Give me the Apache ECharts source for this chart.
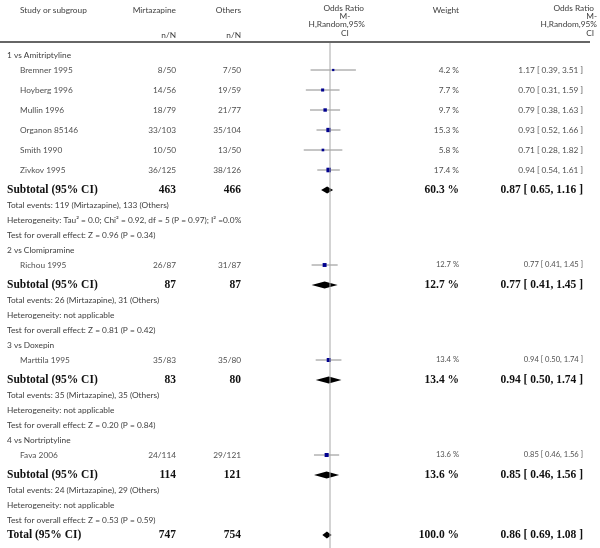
<!DOCTYPE html>
<html><head><meta charset="utf-8">
<script src="https://cdn.jsdelivr.net/npm/echarts@6/dist/echarts.min.js"></script>
<style>html,body{margin:0;padding:0;background:#fff}#c{width:600px;height:548px}</style>
</head><body><div id="c"></div>
<script>
// ---------- data ----------
const groups = ['1 vs Amitriptyline', '2 vs Clomipramine', '3 vs Doxepin', '4 vs Nortriptyline'];
const studyNames = ['Bremner 1995', 'Hoyberg 1996', 'Mullin 1996', 'Organon 85146', 'Smith 1990', 'Zivkov 1995', 'Richou 1995', 'Marttila 1995', 'Fava 2006'];
const studyGroup = [0, 0, 0, 0, 0, 0, 1, 2, 3];
const mirtEvents = [8, 14, 18, 33, 10, 36, 26, 35, 24];
const mirtTotal = [50, 56, 79, 103, 50, 125, 87, 83, 114];
const othEvents = [7, 19, 21, 35, 13, 38, 31, 35, 29];
const othTotal = [50, 59, 77, 104, 50, 126, 87, 80, 121];
const studyWeight = [4.2, 7.7, 9.7, 15.3, 5.8, 17.4, 12.7, 13.4, 13.6];
const studyOR = [1.17, 0.70, 0.79, 0.93, 0.71, 0.94, 0.77, 0.94, 0.85];
const studyLo = [0.39, 0.31, 0.38, 0.52, 0.28, 0.54, 0.41, 0.50, 0.46];
const studyHi = [3.51, 1.59, 1.63, 1.66, 1.82, 1.61, 1.45, 1.74, 1.56];

const subMirtN = [463, 87, 83, 114];
const subOthN = [466, 87, 80, 121];
const subMirtEv = [119, 26, 35, 24];
const subOthEv = [133, 31, 35, 29];
const subWeight = [60.3, 12.7, 13.4, 13.6];
const subOR = [0.87, 0.77, 0.94, 0.85];
const subLo = [0.65, 0.41, 0.50, 0.46];
const subHi = [1.16, 1.45, 1.74, 1.56];
const subHet = [
  'Heterogeneity: Tau\u00B2 = 0.0; Chi\u00B2 = 0.92, df = 5 (P = 0.97); I\u00B2 =0.0%',
  'Heterogeneity: not applicable',
  'Heterogeneity: not applicable',
  'Heterogeneity: not applicable'
];
const subZ = ['0.96', '0.81', '0.20', '0.53'];
const subP = ['0.34', '0.42', '0.84', '0.59'];

const totalMirtN = 747, totalOthN = 754, totalWeight = 100.0;
const totalOR = 0.86, totalLo = 0.69, totalHi = 1.08;

const plotHeader = ['Odds Ratio', 'M-', 'H,Random,95%', 'CI'];

// ---------- layout (styles only) ----------
const SANS = 'Lato, "Open Sans", sans-serif';
const SERIF = '"Liberation Serif", "Times New Roman", serif';
const COL_NAME = 7, COL_STUDY = 20, COL_M = 176, COL_O = 241, COL_W = 459, COL_OR = 583;
const Y_MIN = -11, Y_MAX = 98.6;

const f2 = v => v.toFixed(2);
const fmtOR = (o, l, h) => f2(o) + ' [ ' + f2(l) + ', ' + f2(h) + ' ]';
const fmtW = w => w.toFixed(1) + ' %';

const texts = [];
const forest = [];
let y = 0, first = true, prev = null;
function step(kind) {
  if (first) { first = false; prev = kind; return; }
  let s = 3;
  if (kind === 'study' && prev === 'study') s = 4;
  if (kind === 'subtotal') s = 4;
  y += s; prev = kind;
}
const small = {font: 'normal 8.3px ' + SANS, fill: '#404040'};
const studyStyle = {font: 'normal 8.3px ' + SANS, fill: '#505050'};
const studySmall = {font: 'normal 7.6px ' + SANS, fill: '#505050'};
const bold = {font: 'bold 11.5px ' + SERIF, fill: '#111'};
function T(x, yy, text, st, align) { texts.push({x: x, y: yy, text: text, st: st, align: align || 'left'}); }

groups.forEach((g, gi) => {
  step('group'); T(COL_NAME, y, g, small);
  studyNames.forEach((n, i) => {
    if (studyGroup[i] !== gi) return;
    step('study');
    const single = gi > 0;
    T(COL_STUDY, y, n, studyStyle);
    T(COL_M, y, mirtEvents[i] + '/' + mirtTotal[i], studyStyle, 'right');
    T(COL_O, y, othEvents[i] + '/' + othTotal[i], studyStyle, 'right');
    T(COL_W, y, fmtW(studyWeight[i]), single ? studySmall : studyStyle, 'right');
    T(COL_OR, y, fmtOR(studyOR[i], studyLo[i], studyHi[i]), single ? studySmall : studyStyle, 'right');
    forest.push({kind: 'study', or: studyOR[i], lo: studyLo[i], hi: studyHi[i], w: studyWeight[i], y: y});
  });
  step('subtotal');
  T(COL_NAME, y, 'Subtotal (95% CI)', bold);
  T(COL_M, y, String(subMirtN[gi]), bold, 'right');
  T(COL_O, y, String(subOthN[gi]), bold, 'right');
  T(COL_W, y, fmtW(subWeight[gi]), bold, 'right');
  T(COL_OR, y, fmtOR(subOR[gi], subLo[gi], subHi[gi]), bold, 'right');
  forest.push({kind: 'diamond', or: subOR[gi], lo: subLo[gi], hi: subHi[gi], y: y});
  step('info'); T(COL_NAME, y, 'Total events: ' + subMirtEv[gi] + ' (Mirtazapine), ' + subOthEv[gi] + ' (Others)', small);
  step('info'); T(COL_NAME, y, subHet[gi], small);
  step('info'); T(COL_NAME, y, 'Test for overall effect: Z = ' + subZ[gi] + ' (P = ' + subP[gi] + ')', small);
});
step('total');
T(COL_NAME, y, 'Total (95% CI)', bold);
T(COL_M, y, String(totalMirtN), bold, 'right');
T(COL_O, y, String(totalOthN), bold, 'right');
T(COL_W, y, fmtW(totalWeight), bold, 'right');
T(COL_OR, y, fmtOR(totalOR, totalLo, totalHi), bold, 'right');
forest.push({kind: 'diamond', or: totalOR, lo: totalLo, hi: totalHi, y: y});

// header
const hdr = {font: 'normal 8.3px ' + SANS, fill: '#404040'};
T(COL_STUDY, -9, 'Study or subgroup', hdr);
T(COL_M, -9, 'Mirtazapine', hdr, 'right');
T(COL_O, -9, 'Others', hdr, 'right');
T(COL_M, -4, 'n/N', hdr, 'right');
T(COL_O, -4, 'n/N', hdr, 'right');
T(COL_W, -9, 'Weight', hdr, 'right');
// right odds-ratio column header
const orHdrX = [594, 597, 597, 594];
plotHeader.forEach((l, k) => T(orHdrX[k], -9.4 + k * 1.68, l, hdr, 'right'));
const HDR_LINE = -2.6;

const chart = echarts.init(document.getElementById('c'), null, {renderer: 'canvas'});
chart.setOption({
  animation: false,
  grid: [
    {left: 0, top: 0, width: 600, height: 548},
    {left: 282.5, top: 0, width: 95, height: 548}
  ],
  xAxis: [
    {gridIndex: 0, type: 'value', min: 0, max: 600, show: false},
    {gridIndex: 1, type: 'log', logBase: 10, min: 0.1, max: 10, show: false}
  ],
  yAxis: [
    {gridIndex: 0, type: 'value', min: Y_MIN, max: Y_MAX, inverse: true, show: false},
    {gridIndex: 1, type: 'value', min: Y_MIN, max: Y_MAX, inverse: true, show: false}
  ],
  series: [
    {
      type: 'line', xAxisIndex: 0, yAxisIndex: 0, symbol: 'none', silent: true,
      lineStyle: {color: '#333', width: 1.5},
      data: [[0, HDR_LINE], [590, HDR_LINE]]
    },
    {
      type: 'line', xAxisIndex: 1, yAxisIndex: 1, symbol: 'none', silent: true,
      lineStyle: {color: '#a8a8a8', width: 1},
      data: [[1, HDR_LINE + 0.2], [1, Y_MAX]]
    },
    {
      type: 'custom', xAxisIndex: 0, yAxisIndex: 0, clip: false, silent: true,
      data: texts.map((t, i) => [t.x, t.y, i]),
      renderItem: function (params, api) {
        const t = texts[params.dataIndex];
        const p = api.coord([t.x, t.y]);
        return {
          type: 'text', x: p[0], y: p[1],
          style: {text: t.text, font: t.st.font, fill: t.st.fill, align: t.align, verticalAlign: 'middle'}
        };
      }
    },
    {
      // forest plot column header
      type: 'custom', xAxisIndex: 1, yAxisIndex: 1, clip: false, silent: true,
      data: [[1, -9]],
      renderItem: function (params, api) {
        const p = api.coord([1, -9]);
        const dx = [34, 15, 35, 15];
        const al = ['right', 'center', 'right', 'center'];
        return {
          type: 'group',
          children: plotHeader.map((l, k) => ({
            type: 'text', x: p[0] + dx[k], y: p[1] - 2 + k * 8.4,
            style: {text: l, font: 'normal 8.3px ' + SANS, fill: '#404040', align: al[k], verticalAlign: 'middle'}
          }))
        };
      }
    },
    {
      type: 'custom', xAxisIndex: 1, yAxisIndex: 1, clip: false, silent: true,
      data: forest.map((f, i) => [f.or, f.y, i]),
      renderItem: function (params, api) {
        const f = forest[params.dataIndex];
        const c = api.coord([f.or, f.y]);
        const l = api.coord([f.lo, f.y]);
        const h = api.coord([f.hi, f.y]);
        if (f.kind === 'study') {
          const s = 1.1 * Math.sqrt(f.w);
          return {
            type: 'group', children: [
              {type: 'line', shape: {x1: l[0], y1: l[1], x2: h[0], y2: h[1]}, style: {stroke: '#8c8c8c', lineWidth: 1}},
              {type: 'rect', shape: {x: c[0] - s / 2, y: c[1] - s / 2, width: s, height: s}, style: {fill: '#00008f'}}
            ]
          };
        }
        const hh = 3.4;
        return {
          type: 'polygon',
          shape: {points: [[l[0], c[1]], [c[0], c[1] - hh], [h[0], c[1]], [c[0], c[1] + hh]]},
          style: {fill: '#000'}
        };
      }
    }
  ]
});
</script></body></html>
